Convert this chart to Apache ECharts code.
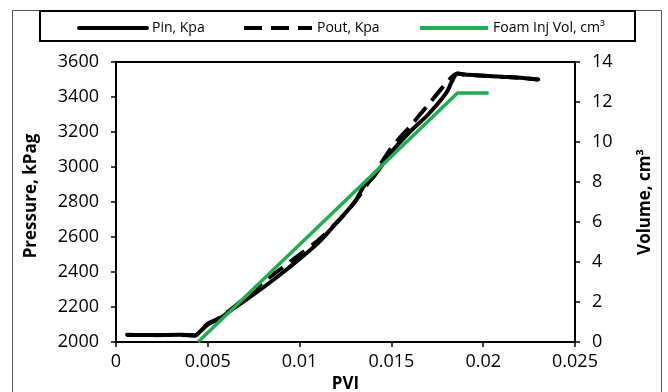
<!DOCTYPE html>
<html>
<head>
<meta charset="utf-8">
<script src="https://cdn.jsdelivr.net/npm/echarts@6/dist/echarts.min.js"></script>
<style>html,body{margin:0;padding:0;background:#fff}#c{width:668px;height:392px}</style>
</head>
<body>
<div id="c"></div>
<script>
// PVI (x) values and series values
var pinX = [0.0006,0.002,0.0035,0.0043,0.0046,0.0050,0.0055,0.0060,0.0065,0.0070,0.0080,0.0090,0.0100,0.0110,0.0120,0.0130,0.0135,0.0140,0.0150,0.0160,0.0170,0.0180,0.0183,0.0186,0.0190,0.0200,0.0210,0.0220,0.0230];
var pinY = [2042,2040,2041,2038,2062,2100,2125,2160,2200,2235,2310,2390,2475,2565,2680,2800,2890,2940,3085,3200,3300,3425,3490,3535,3528,3522,3516,3510,3500];
var poutX = [0.0006,0.002,0.0035,0.0043,0.0046,0.0050,0.0055,0.0060,0.0070,0.0080,0.0090,0.0100,0.0110,0.0120,0.0130,0.0140,0.0150,0.0160,0.0170,0.0180,0.0186,0.0190,0.0200,0.0210,0.0220,0.0230];
var poutY = [2040,2039,2040,2036,2065,2105,2130,2165,2250,2340,2420,2500,2580,2680,2800,2950,3110,3230,3355,3480,3535,3528,3522,3516,3510,3500];
var volX = [0.00447,0.0186,0.0203];
var volY = [0,12.45,12.45];
var xTicks = {min:0,max:0.025,interval:0.005};
var pTicks = {min:2000,max:3600,interval:200};
var vTicks = {min:0,max:14,interval:2};

function pairs(xs, ys){ return xs.map(function(x,i){return [x, ys[i]];}); }

var FONT = '"Open Sans", "Noto Sans", sans-serif';
var chart = echarts.init(document.getElementById('c'), null, {renderer:'canvas'});
var axisCommon = {
  axisLine:{show:true,lineStyle:{color:'#000',width:2}},
  axisTick:{show:true,inside:false,length:5,lineStyle:{color:'#000',width:1.5}},
  splitLine:{show:false},
  axisLabel:{color:'#000',fontSize:18,fontFamily:FONT,formatter:function(v){return String(v);}},
  nameTextStyle:{color:'#000',fontSize:17,fontWeight:'bold',fontFamily:FONT}
};
function legendAt(left, name){
  return {
    data:[name], left:left, top:21, padding:0, itemWidth:68, itemHeight:12,
    itemStyle:{opacity:0}, lineStyle:{width:4},
    textStyle:{fontSize:14,fontFamily:FONT,color:'#000'}, selectedMode:false
  };
}
chart.setOption({
  animation:false,
  backgroundColor:'#fff',
  graphic:[
    {type:'rect',shape:{x:12.5,y:10.5,width:649,height:400},style:{fill:'none',stroke:'#555',lineWidth:1},silent:true,z:-1},
    {type:'rect',shape:{x:40,y:11,width:595,height:30},style:{fill:'none',stroke:'#000',lineWidth:2},silent:true}
  ],
  legend:[legendAt(77,'Pin, Kpa'),legendAt(242,'Pout, Kpa'),legendAt(418,'Foam Inj Vol, cm³')],
  grid:{left:116,right:93,top:62,bottom:50,show:true,borderColor:'#000',borderWidth:2,containLabel:false,outerBoundsMode:'none'},
  xAxis:Object.assign({}, axisCommon, {
    type:'value', min:xTicks.min, max:xTicks.max, interval:xTicks.interval,
    name:'PVI', nameLocation:'middle', nameGap:30,
    axisLabel:Object.assign({}, axisCommon.axisLabel, {margin:11})
  }),
  yAxis:[
    Object.assign({}, axisCommon, {
      type:'value', min:pTicks.min, max:pTicks.max, interval:pTicks.interval, position:'left',
      name:'Pressure, kPag', nameLocation:'middle', nameGap:76, nameRotate:90,
      nameTextStyle:Object.assign({}, axisCommon.nameTextStyle, {padding:[0,0,0,12]}),
      axisLabel:Object.assign({}, axisCommon.axisLabel, {margin:17})
    }),
    Object.assign({}, axisCommon, {
      type:'value', min:vTicks.min, max:vTicks.max, interval:vTicks.interval, position:'right',
      name:'Volume, cm³', nameLocation:'middle', nameGap:62, nameRotate:90,
      axisLabel:Object.assign({}, axisCommon.axisLabel, {margin:17})
    })
  ],
  series:[
    {name:'Pin, Kpa',type:'line',data:pairs(pinX,pinY),yAxisIndex:0,symbol:'none',smooth:0.3,
     lineStyle:{color:'#000',width:4,cap:'round',join:'round'},itemStyle:{color:'#000'}},
    {name:'Pout, Kpa',type:'line',data:pairs(poutX,poutY),yAxisIndex:0,symbol:'none',smooth:0.3,
     lineStyle:{color:'#000',width:4,type:[18,9],cap:'butt'},itemStyle:{color:'#000'}},
    {name:'Foam Inj Vol, cm³',type:'line',data:pairs(volX,volY),yAxisIndex:1,symbol:'none',
     lineStyle:{color:'#1fae4f',width:3.5,cap:'butt'},itemStyle:{color:'#1fae4f'}}
  ]
});
</script>
</body>
</html>
